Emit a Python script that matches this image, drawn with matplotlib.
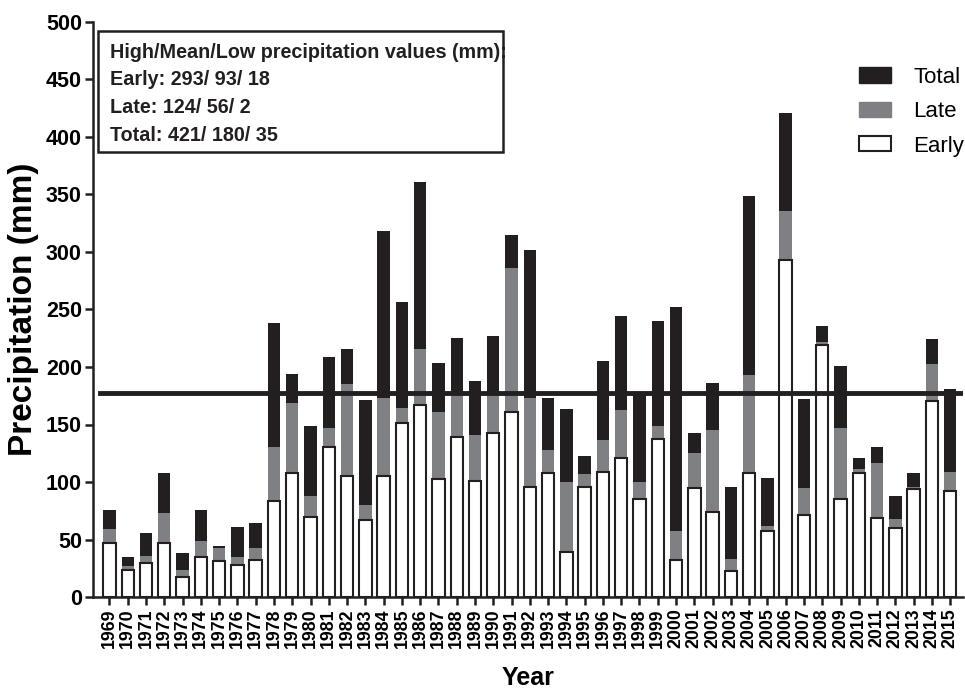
import matplotlib
matplotlib.use("Agg")
import matplotlib.pyplot as plt
from matplotlib.patches import Patch, Rectangle

plt.rcParams['font.family'] = ['Liberation Sans', 'DejaVu Sans']

years = [str(y) for y in range(1969, 2016)]

early = [47, 23.5, 30, 46.7, 17.7, 35, 31.6, 27.8, 32.2, 83.5,
         107.5, 70, 130.7, 105.5, 67, 105.5, 151.6, 167, 103, 139.4,
         101, 143, 161, 95.4, 108, 39.4, 95.4, 109, 121, 85,
         137, 32, 95, 74, 23, 108, 57.7, 293, 71, 219,
         85, 108, 69, 59.7, 93.6, 170.7, 92]

late = [12, 3.5, 5.6, 26, 5.8, 14, 10.7, 7.2, 10, 47.2,
        61, 18, 16, 79.5, 12.7, 67.5, 13, 49, 58, 37.6,
        40, 33, 124.8, 77.6, 19.8, 60.6, 11.3, 27.5, 42, 15,
        12, 25, 30, 71, 10, 85, 4, 43, 24, 2.4,
        62, 3, 47.8, 7.8, 2.4, 32.3, 17]

total = [76, 34.5, 56, 108, 38, 75.6, 44.3, 60.6, 64, 238.5,
         193.6, 149, 209, 215.4, 171.3, 318.5, 256.8, 361, 203.8, 225,
         188, 227, 315, 302, 173.3, 163.5, 122.9, 205.5, 244, 178.6,
         240, 252, 143, 186, 96, 349, 103.8, 421, 172, 236,
         201, 120.6, 130.7, 87.8, 107.5, 224, 180.6]

mean_line = 177

box_lines = ['High/Mean/Low precipitation values (mm):',
             'Early: 293/ 93/ 18',
             'Late: 124/ 56/ 2',
             'Total: 421/ 180/ 35']

BLACK = '#231f20'
GREY = '#7f8083'

W, H = 965, 692
fig = plt.figure(figsize=(W / 100, H / 100), dpi=100)
ax = fig.add_axes([93 / W, 1 - 597 / H, 870 / W, 575 / H])

x = list(range(len(years)))
bw = 0.68
ax.bar(x, total, width=bw, color=BLACK, zorder=2)
ax.bar(x, late, width=bw, bottom=early, color=GREY, zorder=3)
ax.bar(x, early, width=bw, color='white', edgecolor=BLACK, linewidth=1.5, zorder=4)
ax.axhline(mean_line, xmin=0.008, xmax=1, color=BLACK, linewidth=3.5, zorder=5)

ax.set_xlim(-0.9, 46.7)
ax.set_ylim(0, 500)
ax.set_yticks(range(0, 501, 50))
ax.set_xticks(x)
ax.set_xticklabels(years, rotation=90, fontsize=12.8, fontweight='bold')
for lab in ax.get_yticklabels():
    lab.set_fontsize(15.5)
    lab.set_fontweight('bold')

for s in ['top', 'right']:
    ax.spines[s].set_visible(False)
for s in ['left', 'bottom']:
    ax.spines[s].set_linewidth(1.8)
    ax.spines[s].set_color(BLACK)
ax.tick_params(axis='both', direction='out', length=6, width=1.8, color=BLACK, pad=2)

ax.set_ylabel('Precipitation (mm)', fontsize=24, fontweight='bold')
ax.yaxis.set_label_coords(-0.062, 0.5)
ax.set_xlabel('Year', fontsize=18, fontweight='bold', labelpad=13)

# legend
handles = [Patch(facecolor=BLACK, edgecolor=BLACK, label='Total'),
           Patch(facecolor=GREY, edgecolor=GREY, label='Late'),
           Patch(facecolor='white', edgecolor=BLACK, linewidth=1.5, label='Early')]
fig.legend(handles=handles, loc='upper left', bbox_to_anchor=(850 / W, 1 - 58 / H),
           frameon=False, fontsize=16, handlelength=1.45, handleheight=0.68,
           handletextpad=1.0, labelspacing=0.6, borderaxespad=0)

# text box
fig.add_artist(Rectangle((98 / W, 1 - 152 / H), 405 / W, 121 / H, transform=fig.transFigure,
                         facecolor='white', edgecolor=BLACK, linewidth=1.8, zorder=10))
for i, line in enumerate(box_lines):
    fig.text(110 / W, 1 - (52 + 27.7 * i) / H, line, fontsize=14.2, fontweight='bold',
             va='center', ha='left', color=BLACK, zorder=11)

fig.savefig('out.png', dpi=100)
